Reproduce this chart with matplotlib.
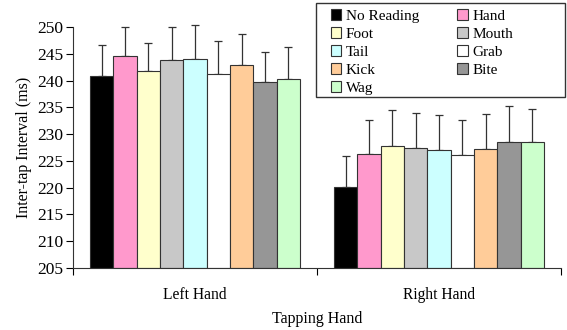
import numpy as np
import matplotlib
matplotlib.use("Agg")
import matplotlib.pyplot as plt
from matplotlib.patches import Rectangle

plt.rcParams['font.family'] = ['Liberation Serif', 'DejaVu Serif']

# Data
hands = ['Left Hand', 'Right Hand']
conditions = ['No Reading', 'Hand', 'Foot', 'Mouth', 'Tail', 'Grab', 'Kick', 'Bite', 'Wag']
means_left = [240.9, 244.7, 241.9, 243.9, 244.1, 241.3, 242.9, 239.7, 240.3]
means_right = [220.1, 226.3, 227.8, 227.4, 227.0, 226.1, 227.2, 228.5, 228.5]
err_left = [5.8, 5.4, 5.2, 6.1, 6.4, 6.1, 5.8, 5.6, 6.0]
err_right = [5.8, 6.3, 6.8, 6.6, 6.6, 6.5, 6.5, 6.8, 6.3]
colors = ['#000000', '#FF99CC', '#FFFFCC', '#C8C8C8', '#CCFFFF',
          '#FFFFFF', '#FFCC99', '#969696', '#CCFFCC']

fig = plt.figure(figsize=(5.67, 3.30), dpi=100)
ax = fig.add_axes([0.1287, 0.189, 0.8606, 0.728])

n = len(conditions)
group_w = 0.86
w = group_w / n
x = np.arange(len(hands))
handles = []
for i, cond in enumerate(conditions):
    pos = x - group_w / 2 + w * (i + 0.5)
    vals = [means_left[i], means_right[i]]
    errs = [err_left[i], err_right[i]]
    b = ax.bar(pos, [v - 205 for v in vals], bottom=205, width=w,
               color=colors[i], edgecolor='#333333', linewidth=0.8,
               label=cond, zorder=2)
    eb = ax.errorbar(pos, vals, yerr=[np.zeros(2), errs], fmt='none',
                     ecolor='#333333', elinewidth=0.9, capsize=2.6,
                     capthick=0.9, zorder=1)
    for art in eb.lines[1] + eb.lines[2]:
        art.set_clip_on(False)
    handles.append(b)

ax.set_ylim(205, 250)
ax.set_yticks(np.arange(205, 251, 5))
ax.set_xlim(-0.5, 1.5)
ax.set_xticks([-0.5, 0.5, 1.5])
ax.set_xticklabels([])
ax.set_xticks(x, minor=True)
ax.set_xticklabels(hands, minor=True)
ax.tick_params(axis='x', which='minor', length=0, pad=14, labelsize=11.2)
ax.tick_params(axis='x', which='major', length=5, direction='out')
ax.tick_params(axis='y', length=5, labelsize=12.5, pad=2)
for s in ['top', 'right']:
    ax.spines[s].set_visible(False)
for s in ['left', 'bottom']:
    ax.spines[s].set_color('#333333')

ax.set_ylabel('Inter-tap Interval (ms)', fontsize=11.5, labelpad=4)
ax.set_xlabel('Tapping Hand', fontsize=11.5, labelpad=6)

order = [0, 2, 4, 6, 8, 1, 3, 5, 7]
leg = fig.legend([handles[k] for k in order], [conditions[k] for k in order],
                 ncol=2, loc='upper left', bbox_to_anchor=(0.583, 0.972),
                 fontsize=11, frameon=False,
                 handlelength=0.7, handleheight=0.7,
                 handletextpad=0.3, columnspacing=2.5, labelspacing=0.28,
                 borderpad=0.0, borderaxespad=0.0)
fig.patches.append(Rectangle((316 / 567, 1 - 96.7 / 330), 249 / 567, 93.4 / 330,
                             transform=fig.transFigure, fill=False,
                             edgecolor='#333333', linewidth=1.0))

fig.savefig('out.png', dpi=100)
